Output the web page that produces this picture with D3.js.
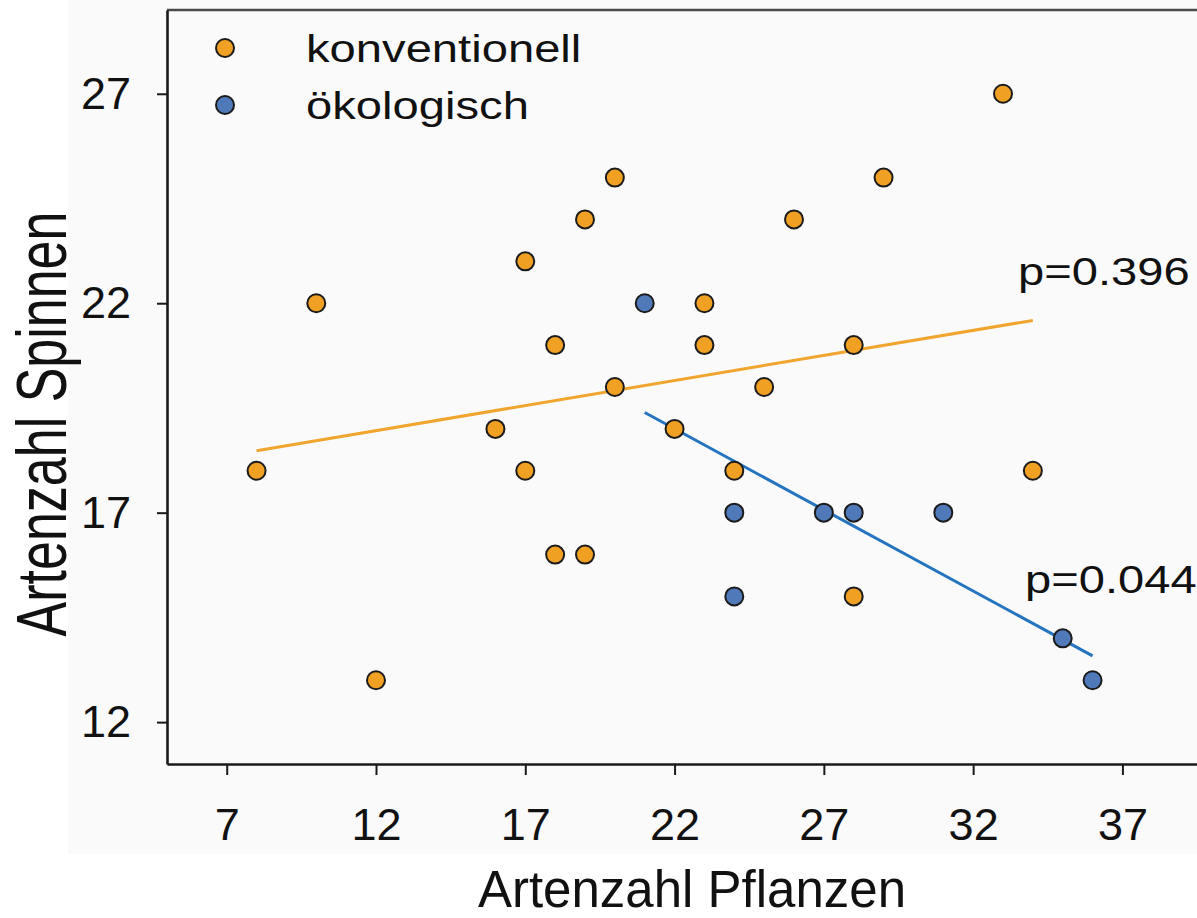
<!DOCTYPE html>
<html>
<head>
<meta charset="utf-8">
<script src="https://cdn.jsdelivr.net/npm/d3@7/dist/d3.min.js"></script>
<style>
  html, body { margin: 0; padding: 0; background: #ffffff; }
  svg { display: block; }
  text { font-family: "Liberation Sans", Arial, Helvetica, sans-serif; fill: #111; }
</style>
</head>
<body>
<svg id="chart" width="1197" height="918"></svg>
<script>
// Species richness: plants (x) vs. spiders (y), conventional vs. organic farms
const konvPflanzen = [8, 10, 12, 16, 17, 17, 18, 18, 19, 19, 20, 20, 22, 23, 23, 24, 25, 26, 28, 28, 29, 33, 34];
const konvSpinnen  = [18, 22, 13, 19, 23, 18, 21, 16, 24, 16, 25, 20, 19, 22, 21, 18, 20, 24, 21, 15, 25, 27, 18];

const oekoPflanzen = [21, 24, 24, 27, 28, 31, 35, 36];
const oekoSpinnen  = [22, 17, 15, 17, 17, 17, 14, 13];

// fitted regression lines (endpoints)
const konvFitX = [8, 34];
const konvFitY = [18.48, 21.59];
const oekoFitX = [21, 36];
const oekoFitY = [19.39, 13.58];

const xTicks = [7, 12, 17, 22, 27, 32, 37];
const yTicks = [12, 17, 22, 27];

const seriesNames = ["konventionell", "ökologisch"];
const pLabels = ["p=0.396", "p=0.044"];

const colOrange = "#f0a023";
const colBlue = "#5079b9";
const lineOrange = "#f0a62e";
const lineBlue = "#2474bf";

const svg = d3.select("#chart");

// light panel behind the plot
svg.append("rect")
  .attr("x", 68).attr("y", 0)
  .attr("width", 1197 - 68).attr("height", 854)
  .attr("fill", "#fafafa");

const x = d3.scaleLinear().domain([5, 40]).range([167, 1212]);
const y = d3.scaleLinear().domain([11, 29]).range([764, 10]);

// top frame line
svg.append("line")
  .attr("x1", 167).attr("x2", 1197)
  .attr("y1", y(29)).attr("y2", y(29))
  .attr("stroke", "#4a4a4a").attr("stroke-width", 2.5);

// axes
const xAxis = svg.append("g")
  .attr("transform", `translate(0,${y(11)})`)
  .call(d3.axisBottom(x).tickValues(xTicks).tickSize(11).tickPadding(33).tickSizeOuter(0));
const yAxis = svg.append("g")
  .attr("transform", `translate(${x(5)},0)`)
  .call(d3.axisLeft(y).tickValues(yTicks).tickSize(10).tickPadding(26).tickSizeOuter(0));

[xAxis, yAxis].forEach(g => {
  g.select(".domain").attr("stroke", "#1a1a1a").attr("stroke-width", 2.6);
  g.selectAll(".tick line").attr("stroke", "#1a1a1a").attr("stroke-width", 2);
  g.selectAll(".tick text")
    .attr("fill", "#111")
    .style("font-family", '"Liberation Sans", Arial, sans-serif')
    .style("font-size", "45px");
});

// regression lines
const line = d3.line().x(d => x(d[0])).y(d => y(d[1]));
svg.append("path")
  .datum(d3.zip(konvFitX, konvFitY))
  .attr("d", line).attr("fill", "none")
  .attr("stroke", lineOrange).attr("stroke-width", 3);
svg.append("path")
  .datum(d3.zip(oekoFitX, oekoFitY))
  .attr("d", line).attr("fill", "none")
  .attr("stroke", lineBlue).attr("stroke-width", 3);

// points
function drawPoints(xs, ys, fill) {
  svg.append("g").selectAll("circle")
    .data(d3.zip(xs, ys))
    .join("circle")
    .attr("cx", d => x(d[0]))
    .attr("cy", d => y(d[1]))
    .attr("r", 9)
    .attr("fill", fill)
    .attr("stroke", "#1b1b1b")
    .attr("stroke-width", 2);
}
drawPoints(konvPflanzen, konvSpinnen, colOrange);
drawPoints(oekoPflanzen, oekoSpinnen, colBlue);

// horizontally stretched text helper
function stretchedText(tx, ty, str, size, sx) {
  svg.append("g")
    .attr("transform", `translate(${tx},${ty}) scale(${sx},1)`)
    .append("text")
    .attr("x", 0).attr("y", 0)
    .style("font-size", size + "px")
    .text(str);
}

// legend
const legendY = [48, 105];
const legendCols = [colOrange, colBlue];
seriesNames.forEach((name, i) => {
  svg.append("circle")
    .attr("cx", 225).attr("cy", legendY[i]).attr("r", 9)
    .attr("fill", legendCols[i]).attr("stroke", "#1b1b1b").attr("stroke-width", 2);
  stretchedText(306, legendY[i] + 14, name, 39, 1.21);
});

// p-values
stretchedText(1018, 285, pLabels[0], 38, 1.24);
stretchedText(1025, 593, pLabels[1], 38, 1.24);

// axis titles
svg.append("text")
  .attr("x", 692).attr("y", 907)
  .attr("text-anchor", "middle")
  .style("font-size", "51px")
  .text("Artenzahl Pflanzen");

svg.append("g")
  .attr("transform", "translate(66,424) rotate(-90) scale(1,1.37)")
  .append("text")
  .attr("x", 0).attr("y", 0)
  .attr("text-anchor", "middle")
  .style("font-size", "52px")
  .text("Artenzahl Spinnen");
</script>
</body>
</html>
